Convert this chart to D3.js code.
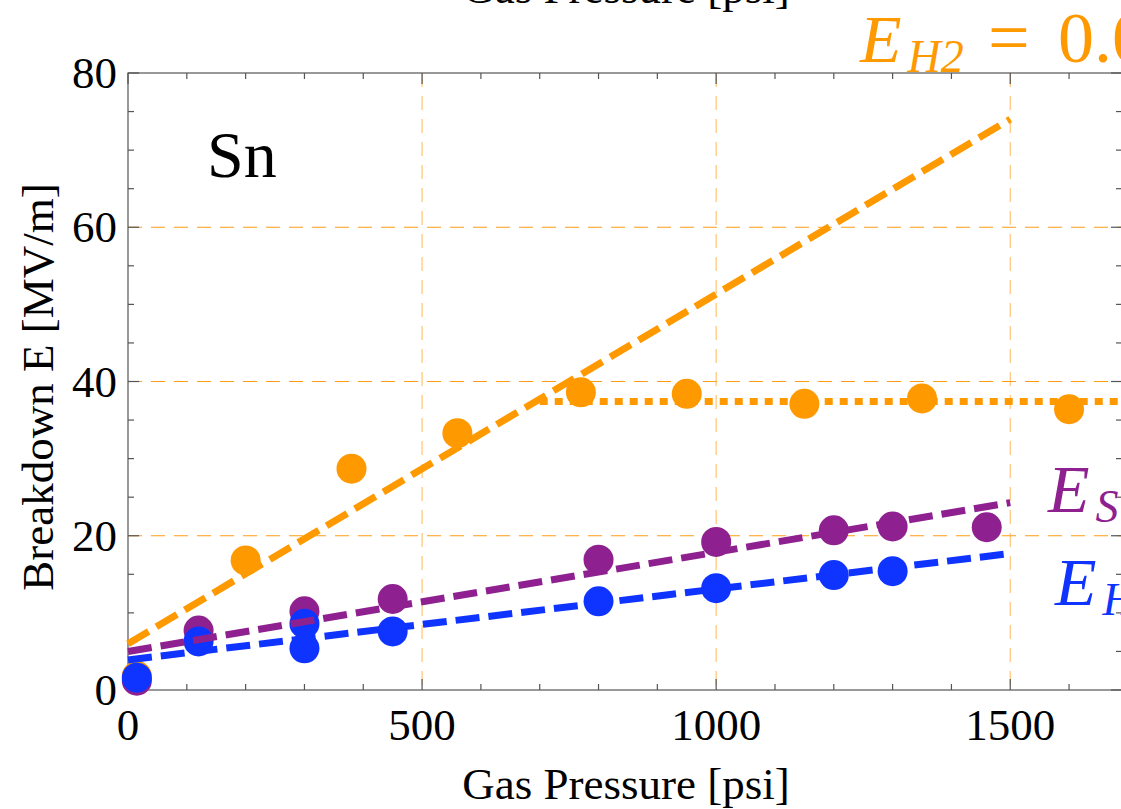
<!DOCTYPE html>
<html lang="en">
<head>
<meta charset="UTF-8">
<title>Breakdown E vs Gas Pressure - Sn</title>
<script src="https://d3js.org/d3.v7.min.js"></script>
<style>
    body { margin: 0; background: white; }
    svg { display: block; }
</style>
</head>
<body>
<div id="chart"></div>
<script>
    // Data
    const h2Pressure = [15, 200, 380, 560, 770, 950, 1150, 1350, 1600];
    const h2Field = [1.8, 16.8, 28.7, 33.3, 38.6, 38.4, 37.1, 37.8, 36.4];

    const sPressure = [15, 120, 300, 450, 800, 1000, 1200, 1300, 1460];
    const sField = [1.2, 7.7, 10.2, 11.8, 16.9, 19.2, 20.7, 21.2, 21.1];

    const hPressure = [15, 120, 300, 300, 450, 800, 1000, 1200, 1300];
    const hField = [1.6, 6.3, 8.6, 5.4, 7.6, 11.5, 13.2, 14.9, 15.4];

    // fitted lines (end points) and the H2 plateau
    const fitPressure = [0, 1500];
    const h2Fit = [6.0, 74.0];
    const sFit = [5.0, 24.3];
    const hFit = [3.9, 17.7];
    const plateauPressure = [700, 1690];
    const plateauField = [37.4, 37.4];

    const xTicks = [0, 500, 1000, 1500];
    const yTicks = [0, 20, 40, 60, 80];

    const colors = { h2: '#ff9900', s: '#8e2090', h: '#1034ff' };
    const serif = "'Times New Roman', 'Liberation Serif', Times, serif";

    const width = 1121, height = 809;
    const margin = { top: 73, left: 128, bottom: 119 };
    const plotRight = 1122;

    const svg = d3.select('#chart').append('svg')
        .attr('width', width)
        .attr('height', height)
        .attr('font-family', serif);

    const x = d3.scaleLinear().domain([0, 1690]).range([margin.left, plotRight]);
    const y = d3.scaleLinear().domain([0, 80]).range([height - margin.bottom, margin.top]);

    const x0 = x.range()[0], x1 = x.range()[1];
    const y0 = y.range()[0], y1 = y.range()[1];

    // grid
    const grid = svg.append('g').attr('stroke', '#ff9d14').attr('stroke-width', 1.2)
        .attr('stroke-dasharray', '14,9').attr('fill', 'none');
    grid.selectAll('.gx').data(xTicks.filter(d => d > 0)).join('line')
        .attr('x1', d => x(d)).attr('x2', d => x(d))
        .attr('y1', y1).attr('y2', y0)
        .attr('stroke-opacity', 0.6);
    grid.selectAll('.gy').data(yTicks.filter(d => d > 0 && d < 80)).join('line')
        .attr('y1', d => y(d)).attr('y2', d => y(d))
        .attr('x1', x0).attr('x2', x1);

    // frame with inward ticks
    const frame = svg.append('g').attr('stroke', '#555').attr('stroke-width', 1.2);
    frame.append('rect').attr('x', x0).attr('y', y1)
        .attr('width', x1 - x0).attr('height', y0 - y1).attr('fill', 'none');

    const xMinor = d3.range(0, 1700, 100);
    const yMinor = d3.range(0, 81, 5);
    xMinor.forEach(v => {
        const len = v % 500 === 0 ? 11 : 6;
        frame.append('line').attr('x1', x(v)).attr('x2', x(v)).attr('y1', y0).attr('y2', y0 - len);
        frame.append('line').attr('x1', x(v)).attr('x2', x(v)).attr('y1', y1).attr('y2', y1 + len);
    });
    yMinor.forEach(v => {
        const len = v % 20 === 0 ? 11 : 6;
        frame.append('line').attr('y1', y(v)).attr('y2', y(v)).attr('x1', x0).attr('x2', x0 + len);
        frame.append('line').attr('y1', y(v)).attr('y2', y(v)).attr('x1', x1).attr('x2', x1 - len);
    });

    // tick labels
    svg.append('g').selectAll('text').data(xTicks).join('text')
        .attr('x', d => x(d)).attr('y', 740)
        .attr('text-anchor', 'middle')
        .attr('font-size', 45)
        .text(d => d);
    svg.append('g').selectAll('text').data(yTicks).join('text')
        .attr('x', 117).attr('y', d => y(d) + 15)
        .attr('text-anchor', 'end')
        .attr('font-size', 45)
        .text(d => d);

    // axis titles
    svg.append('text').attr('x', 626).attr('y', 799)
        .attr('text-anchor', 'middle').attr('font-size', 45)
        .text('Gas Pressure [psi]');
    // title of the panel above, cut by the top edge
    svg.append('text').attr('x', 626).attr('y', 3)
        .attr('text-anchor', 'middle').attr('font-size', 45)
        .text('Gas Pressure [psi]');
    svg.append('text')
        .attr('transform', 'translate(53,387) rotate(-90)')
        .attr('text-anchor', 'middle').attr('font-size', 45)
        .text('Breakdown E [MV/m]');

    svg.append('text').attr('x', 207).attr('y', 177)
        .attr('font-size', 66).text('Sn');

    // points
    const series = [
        { p: h2Pressure, e: h2Field, c: colors.h2 },
        { p: sPressure, e: sField, c: colors.s },
        { p: hPressure, e: hField, c: colors.h }
    ];
    series.forEach(s => {
        svg.append('g').selectAll('circle').data(s.p).join('circle')
            .attr('cx', d => x(d))
            .attr('cy', (d, i) => y(s.e[i]))
            .attr('r', 15)
            .attr('fill', s.c);
    });

    // fitted lines
    const line = d3.line().x(d => x(d[0])).y(d => y(d[1]));
    const fits = [
        { p: fitPressure, e: h2Fit, c: colors.h2, dash: '24,9' },
        { p: plateauPressure, e: plateauField, c: colors.h2, dash: '8,7' },
        { p: fitPressure, e: sFit, c: colors.s, dash: '24,9' },
        { p: fitPressure, e: hFit, c: colors.h, dash: '24,9' }
    ];
    fits.forEach(f => {
        svg.append('path')
            .datum(f.p.map((v, i) => [v, f.e[i]]))
            .attr('d', line)
            .attr('fill', 'none')
            .attr('stroke', f.c)
            .attr('stroke-width', 7)
            .attr('stroke-dasharray', f.dash);
    });

    // equation labels (cut by the right edge)
    function eqLabel(xPos, yPos, color, sub) {
        const t = svg.append('text').attr('y', yPos).attr('fill', color)
            .attr('font-size', 68);
        t.append('tspan').attr('x', xPos).attr('font-style', 'italic').text('E');
        t.append('tspan').attr('dx', 6).attr('dy', 10).attr('font-size', 46)
            .attr('font-style', 'italic').text(sub);
        return t;
    }
    const h2Label = eqLabel(860, 62, colors.h2, 'H2');
    h2Label.append('tspan').attr('x', 988).attr('y', 62).attr('font-size', 74).text('=');
    h2Label.append('tspan').attr('x', 1058).attr('y', 62).attr('font-size', 72).text('0.045');
    eqLabel(1048, 512, colors.s, 'S');
    eqLabel(1055, 605, colors.h, 'H');
</script>
</body>
</html>
